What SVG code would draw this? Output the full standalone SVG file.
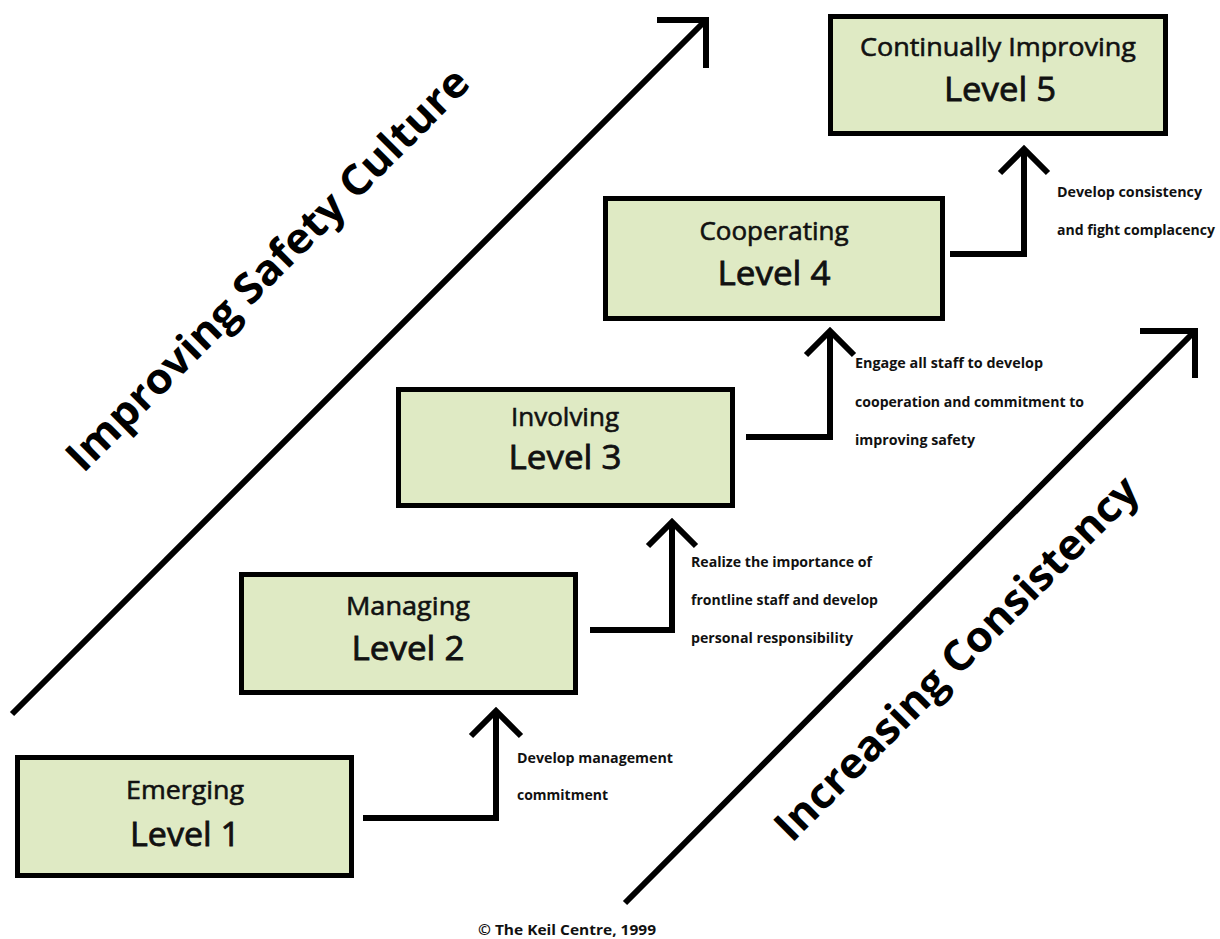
<svg xmlns="http://www.w3.org/2000/svg" width="1220" height="939" viewBox="0 0 1220 939">
<style>
.box{fill:#dfeac4;stroke:#000;stroke-width:5}
.t1{font-family:"Open Sans","Liberation Sans",sans-serif;font-size:26px;text-anchor:middle;fill:#111;stroke:#111;stroke-width:0.6}
.t2{font-family:"Open Sans","Liberation Sans",sans-serif;font-size:33px;text-anchor:middle;fill:#111;stroke:#111;stroke-width:0.8}
.lbl{font-family:"Open Sans","Liberation Sans",sans-serif;font-weight:bold;font-size:14px;fill:#111}
.big{font-family:"Open Sans","Liberation Sans",sans-serif;font-weight:bold;font-size:42px;text-anchor:middle;dominant-baseline:central;fill:#000}
.ln{fill:none;stroke:#000;stroke-width:6;stroke-linecap:butt;stroke-linejoin:miter}
</style>
<rect width="1220" height="939" fill="#fff"/>
<g id="connectors">
<polyline class="ln" points="363,818 496,818 496,711"/>
<polyline class="ln" points="471,736 496,711 521,736"/>
<polyline class="ln" points="590,630 672,630 672,522"/>
<polyline class="ln" points="648,546 672,522 696,546"/>
<polyline class="ln" points="746,437 830,437 830,331"/>
<polyline class="ln" points="806,355 830,331 854,355"/>
<polyline class="ln" points="950,254 1024,254 1024,149"/>
<polyline class="ln" points="1000,173 1024,149 1048,173"/>
<text class="lbl" x="517" y="763" textLength="156" lengthAdjust="spacingAndGlyphs">Develop management</text>
<text class="lbl" x="517" y="800" textLength="91" lengthAdjust="spacingAndGlyphs">commitment</text>
<text class="lbl" x="691" y="567" textLength="181" lengthAdjust="spacingAndGlyphs">Realize the importance of</text>
<text class="lbl" x="691" y="605" textLength="187" lengthAdjust="spacingAndGlyphs">frontline staff and develop</text>
<text class="lbl" x="691" y="643" textLength="162" lengthAdjust="spacingAndGlyphs">personal responsibility</text>
<text class="lbl" x="855" y="368" textLength="188" lengthAdjust="spacingAndGlyphs">Engage all staff to develop</text>
<text class="lbl" x="855" y="407" textLength="229" lengthAdjust="spacingAndGlyphs">cooperation and commitment to</text>
<text class="lbl" x="855" y="445" textLength="120" lengthAdjust="spacingAndGlyphs">improving safety</text>
<text class="lbl" x="1057" y="197" textLength="145" lengthAdjust="spacingAndGlyphs">Develop consistency</text>
<text class="lbl" x="1057" y="235" textLength="158" lengthAdjust="spacingAndGlyphs">and fight complacency</text>
</g>
<g id="axis-culture">
<polyline class="ln" points="12,714 706,20"/>
<polyline class="ln" points="657,20 706,20 706,68"/>
<text class="big" transform="translate(266,268) rotate(-45)" textLength="550" lengthAdjust="spacingAndGlyphs">Improving Safety Culture</text>
</g>
<g id="axis-consistency">
<polyline class="ln" points="625,903 1195,331"/>
<polyline class="ln" points="1140,331 1195,331 1195,378"/>
<text class="big" transform="translate(955,657) rotate(-45)" textLength="495" lengthAdjust="spacingAndGlyphs">Increasing Consistency</text>
</g>
<g id="level1">
<rect class="box" x="17.5" y="757.5" width="334" height="118"/>
<text class="t1" x="185" y="799" textLength="118" lengthAdjust="spacingAndGlyphs">Emerging</text>
<text class="t2" x="185" y="846" textLength="110" lengthAdjust="spacingAndGlyphs">Level 1</text>
</g>
<g id="level2">
<rect class="box" x="241.5" y="574.5" width="334" height="118"/>
<text class="t1" x="408" y="615" textLength="124" lengthAdjust="spacingAndGlyphs">Managing</text>
<text class="t2" x="408" y="660" textLength="113" lengthAdjust="spacingAndGlyphs">Level 2</text>
</g>
<g id="level3">
<rect class="box" x="398.5" y="389.5" width="334" height="116"/>
<text class="t1" x="565" y="426">Involving</text>
<text class="t2" x="565" y="469" textLength="113" lengthAdjust="spacingAndGlyphs">Level 3</text>
</g>
<g id="level4">
<rect class="box" x="605.5" y="198.5" width="337" height="120"/>
<text class="t1" x="774" y="240">Cooperating</text>
<text class="t2" x="774" y="285" textLength="113" lengthAdjust="spacingAndGlyphs">Level 4</text>
</g>
<g id="level5">
<rect class="box" x="830.5" y="16.5" width="335" height="117"/>
<text class="t1" x="998" y="56" textLength="276" lengthAdjust="spacingAndGlyphs">Continually Improving</text>
<text class="t2" x="1000" y="101" textLength="112" lengthAdjust="spacingAndGlyphs">Level 5</text>
</g>
<text class="lbl" x="478" y="935" textLength="178" lengthAdjust="spacingAndGlyphs">© The Keil Centre, 1999</text>
</svg>
